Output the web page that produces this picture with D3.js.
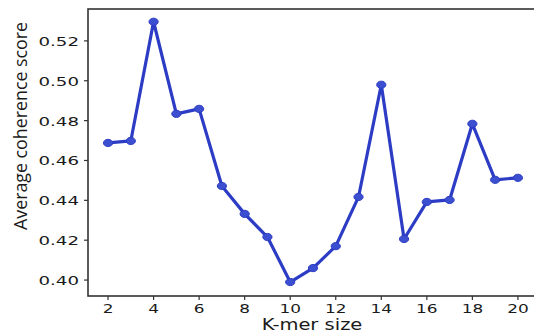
<!DOCTYPE html>
<html>
<head>
<meta charset="utf-8">
<script src="https://cdn.jsdelivr.net/npm/d3@7"></script>
<style>
  body { margin: 0; background: #fff; }
  svg { display: block; }
</style>
</head>
<body>
<div id="chart"></div>
<script>
// K-mer sizes and average coherence scores
var kmerSizes = [2, 3, 4, 5, 6, 7, 8, 9, 10, 11, 12, 13, 14, 15, 16, 17, 18, 19, 20];
var coherence = [0.4688, 0.4698, 0.5296, 0.4834, 0.4859, 0.4472, 0.4332, 0.4216, 0.3990,
                 0.4060, 0.4170, 0.4417, 0.4980, 0.4206, 0.4392, 0.4402, 0.4784, 0.4503, 0.4513];
var xTicks = [2, 4, 6, 8, 10, 12, 14, 16, 18, 20];
var yTicks = [0.40, 0.42, 0.44, 0.46, 0.48, 0.50, 0.52];

var width = 534, height = 333;
var plotLeft = 88, plotTop = 9, plotRight = 535, plotBottom = 296;

var svg = d3.select("#chart").append("svg")
    .attr("width", width)
    .attr("height", height);

var x = d3.scaleLinear().domain([1.12, 20.75]).range([plotLeft, plotRight]);
var y = d3.scaleLinear().domain([0.392, 0.536]).range([plotBottom, plotTop]);

// spines
svg.append("rect")
    .attr("x", plotLeft).attr("y", plotTop)
    .attr("width", plotRight - plotLeft).attr("height", plotBottom - plotTop)
    .attr("fill", "none")
    .attr("stroke", "#333")
    .attr("stroke-width", 1.6);

// x ticks
var xt = svg.selectAll(".xt").data(xTicks).enter().append("g")
    .attr("transform", function(d) { return "translate(" + x(d) + "," + plotBottom + ")"; });
xt.append("line").attr("y1", 0).attr("y2", 4).attr("stroke", "#333").attr("stroke-width", 1.2);
xt.append("text")
    .attr("transform", "translate(0,17) scale(1.3,1)")
    .attr("text-anchor", "middle")
    .style("font-family", "DejaVu Sans")
    .style("font-size", "13px")
    .attr("fill", "#1a1a1a")
    .text(function(d) { return d; });

// y ticks
var yt = svg.selectAll(".yt").data(yTicks).enter().append("g")
    .attr("transform", function(d) { return "translate(" + plotLeft + "," + y(d) + ")"; });
yt.append("line").attr("x1", 0).attr("x2", -4).attr("stroke", "#333").attr("stroke-width", 1.2);
yt.append("text")
    .attr("transform", "translate(-9,5) scale(1.4,1)")
    .attr("text-anchor", "end")
    .style("font-family", "DejaVu Sans")
    .style("font-size", "13px")
    .attr("fill", "#1a1a1a")
    .text(function(d) { return d.toFixed(2); });

// axis labels
svg.append("text")
    .attr("transform", "translate(312,330) scale(1.3,1)")
    .attr("text-anchor", "middle")
    .style("font-family", "DejaVu Sans")
    .style("font-size", "15px")
    .attr("fill", "#1a1a1a")
    .text("K-mer size");

svg.append("text")
    .attr("transform", "translate(27,126) rotate(-90)")
    .attr("text-anchor", "middle")
    .attr("textLength", 208)
    .attr("lengthAdjust", "spacingAndGlyphs")
    .style("font-family", "Open Sans")
    .style("font-size", "19px")
    .attr("fill", "#1a1a1a")
    .text("Average coherence score");

// line + markers
var line = d3.line()
    .x(function(d, i) { return x(kmerSizes[i]); })
    .y(function(d) { return y(d); });

svg.append("path")
    .datum(coherence)
    .attr("d", line)
    .attr("fill", "none")
    .attr("stroke", "#2c3cc4")
    .attr("stroke-width", 3.2)
    .attr("stroke-linejoin", "round");

svg.selectAll(".pt").data(coherence).enter().append("ellipse")
    .attr("cx", function(d, i) { return x(kmerSizes[i]); })
    .attr("cy", function(d) { return y(d); })
    .attr("rx", 4.6)
    .attr("ry", 3.6)
    .attr("fill", "#3c4fd0")
    .attr("stroke", "#2c3cc4")
    .attr("stroke-width", 1);
</script>
</body>
</html>
